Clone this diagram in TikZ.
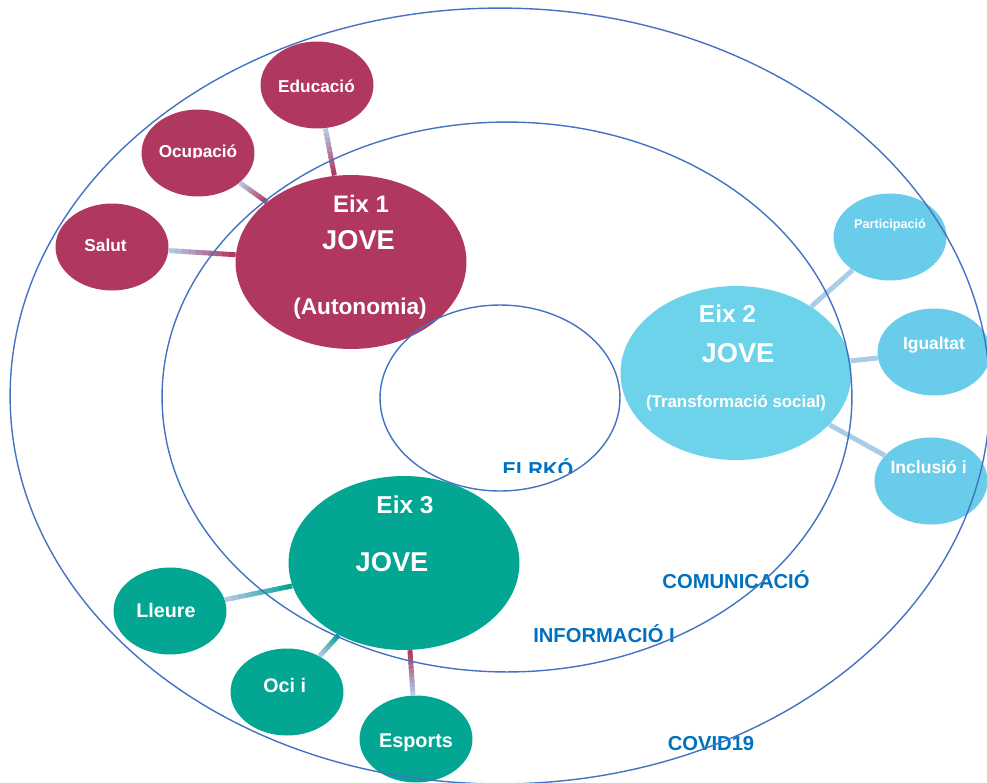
\documentclass[tikz,border=0pt]{standalone}
\usepackage{fontspec}
\setmainfont{Liberation Sans}
\usetikzlibrary{shapes.geometric,calc}

\definecolor{eixred}{HTML}{B0385F}
\definecolor{eixcyan}{HTML}{6DD3EA}
\definecolor{subcyan}{HTML}{6ACCEB}
\definecolor{eixteal}{HTML}{03A693}
\definecolor{ringblue}{HTML}{4472C4}
\definecolor{labelblue}{HTML}{0070C0}
\definecolor{linklight}{HTML}{B4C7E7}
\definecolor{linkcyan}{HTML}{A9CCE8}

\tikzset{
  ring/.style={draw=ringblue,line width=0.8pt,ellipse,inner sep=0pt},
  bubble/.style={ellipse,inner sep=0pt,minimum width=2.26cm,minimum height=1.74cm},
  eixbubble/.style={ellipse,inner sep=0pt,minimum width=4.62cm,minimum height=3.48cm},
  txt/.style={text=white,font=\bfseries\fontsize{#1}{#1}\selectfont,anchor=base,inner sep=0pt},
  lbl/.style={text=labelblue,font=\bfseries\fontsize{11.5}{13}\selectfont,anchor=base,inner sep=0pt},
  linkline/.style={line width=2.8pt},
}

% connector that fades from the small bubble to the big one
\newcommand{\gradlink}[3]{%
  \path (#1) -- (#2) coordinate[pos=0] (#1-s) coordinate[pos=1] (#1-e);
  \foreach \k in {0,...,9}{%
    \pgfmathsetmacro{\lnka}{\k/10}%
    \pgfmathsetmacro{\lnkb}{min(1,(\k+1.2)/10)}%
    \pgfmathtruncatemacro{\mixp}{\k*11}%
    \draw[linkline,color=#3!\mixp!linklight] ($(#1-s)!\lnka!(#1-e)$) -- ($(#1-s)!\lnkb!(#1-e)$);
  }%
}

\begin{document}
\begin{tikzpicture}[x=0.02cm,y=-0.02cm]
\useasboundingbox (0,0) rectangle (987,782);

% labels of the rings
\node[lbl] (comm) at (736,588) {COMUNICACIÓ};
\node[lbl] (info) at (604,642) {INFORMACIÓ I};
\node[lbl] (covid) at (711,750) {COVID19};
\begin{scope}
\clip (480,440) rectangle (600,472);
\node[lbl] (elrko) at (538,476.5) {ELRKÓ};
\end{scope}

% eix 1
\node[eixbubble,fill=eixred] (eix1) at (351,262) {};
\node[bubble,fill=eixred] (edu) at (317,85) {};
\node[bubble,fill=eixred] (ocu) at (198,153) {};
\node[bubble,fill=eixred] (salut) at (112,247) {};
% eix 2
\node[eixbubble,fill=eixcyan] (eix2) at (736,373) {};
\node[bubble,fill=subcyan] (part) at (890,237) {};
\node[bubble,fill=subcyan] (igual) at (934,352) {};
\node[bubble,fill=subcyan] (incl) at (931,481) {};
% eix 3
\node[eixbubble,fill=eixteal] (eix3) at (404,563) {};
\node[bubble,fill=eixteal] (lleure) at (170,611) {};
\node[bubble,fill=eixteal] (oci) at (287,692) {};
\node[bubble,fill=eixteal] (esports) at (416,739) {};

% connectors
\gradlink{edu}{eix1}{eixred}
\gradlink{ocu}{eix1}{eixred}
\gradlink{salut}{eix1}{eixred}
\draw[linkline,linkcyan] (eix2) -- (part);
\draw[linkline,linkcyan] (eix2) -- (igual);
\draw[linkline,linkcyan] (eix2) -- (incl);
\gradlink{lleure}{eix3}{eixteal}
\gradlink{oci}{eix3}{eixteal}
\gradlink{esports}{eix3}{eixred}

% texts
\node[txt=13.6] (eix1-a) at (361,212) {Eix 1};
\node[txt=15.5] (eix1-b) at (358.5,249) {JOVE};
\node[txt=12.9] (eix1-c) at (360,314) {(Autonomia)};
\node[txt=9.8] (edu-t) at (316.5,92) {Educació};
\begin{scope}
\clip (130,100) rectangle (270,157.5);
\node[txt=9.8] (ocu-t) at (198,157.5) {Ocupació};
\end{scope}
\begin{scope}
\clip (50,200) rectangle (170,250);
\node[txt=9.8] (salut-t) at (105.5,251.5) {Salut};
\end{scope}

\node[txt=13.9] (eix2-a) at (727.5,322) {Eix 2};
\node[txt=15.5] (eix2-b) at (738,362) {JOVE};
\node[txt=9.6] (eix2-c) at (736,407) {(Transformació social)};
\node[txt=7.2] (part-t) at (890,228) {Participació};
\node[txt=9.9] (igual-t) at (934,349.5) {Igualtat};
\node[txt=10] (incl-t) at (928.6,473) {Inclusió i};

\node[txt=13.9] (eix3-a) at (405,513) {Eix 3};
\node[txt=15.5] (eix3-b) at (392,571) {JOVE};
\node[txt=11.2] (lleure-t) at (166,617) {Lleure};
\node[txt=11.2] (oci-t) at (284.7,692) {Oci i};
\node[txt=11.3] (esports-t) at (416,747) {Esports};

% rings
\node[ring,minimum width=19.6cm,minimum height=15.52cm] (outer) at (500,396) {};
\node[ring,minimum width=13.8cm,minimum height=11cm] (middle) at (507,397) {};
\node[ring,minimum width=4.8cm,minimum height=3.72cm] (inner) at (500,398) {};
\end{tikzpicture}
\end{document}
